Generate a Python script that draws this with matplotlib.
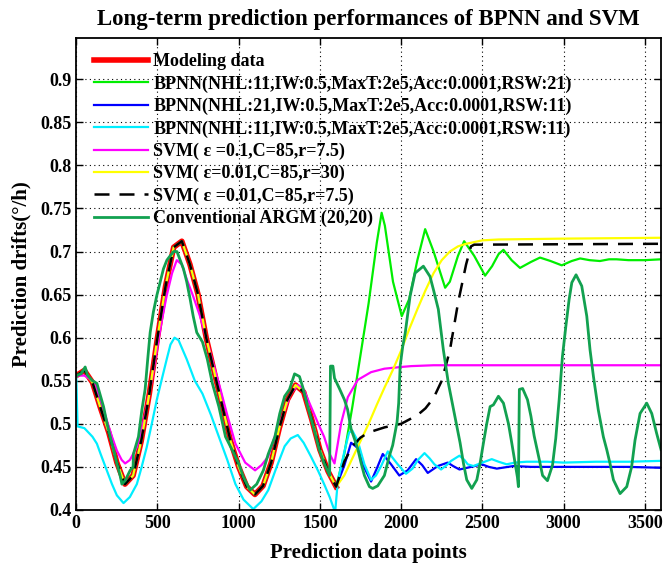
import matplotlib
matplotlib.use('Agg')
import matplotlib.pyplot as plt
import numpy as np
from matplotlib.ticker import FormatStrFormatter

plt.rcParams['font.family'] = ['Liberation Serif', 'DejaVu Serif']
plt.rcParams['font.weight'] = 'bold'

# Modeling data (0..1600, step 50)
model_x = list(range(0, 1601, 50))
model_y = [0.556, 0.562, 0.548, 0.518, 0.490, 0.455, 0.430, 0.440, 0.480, 0.535,
           0.600, 0.660, 0.705, 0.712, 0.685, 0.650, 0.600, 0.560, 0.520, 0.480,
           0.450, 0.427, 0.418, 0.428, 0.455, 0.495, 0.528, 0.545, 0.537, 0.505,
           0.470, 0.445, 0.427]

# BPNN(NHL:11, RSW:21) - prediction part
bp1_x = [1650, 1700, 1750, 1800, 1850, 1880, 1900, 1950, 2004, 2050, 2100, 2148, 2200,
         2271, 2300, 2350, 2388, 2450, 2517, 2560, 2600, 2630, 2680, 2732, 2800, 2855,
         2920, 2989, 3050, 3102, 3160, 3224, 3280, 3326, 3400, 3500, 3600]
bp1_y = [0.465, 0.520, 0.580, 0.640, 0.710, 0.745, 0.730, 0.665, 0.625, 0.645, 0.690,
         0.726, 0.700, 0.658, 0.665, 0.695, 0.712, 0.695, 0.672, 0.683, 0.697, 0.702,
         0.690, 0.681, 0.688, 0.693, 0.689, 0.684, 0.689, 0.692, 0.690, 0.689, 0.691,
         0.691, 0.690, 0.690, 0.691]

# BPNN(NHL:21, RSW:11) - prediction part
bp2_x = [1651, 1692, 1733, 1774, 1815, 1850, 1887, 1938, 1989, 2040, 2092, 2130, 2164,
         2226, 2287, 2320, 2359, 2431, 2497, 2540, 2589, 2692, 2800, 3000, 3200, 3400, 3600]
bp2_y = [0.452, 0.478, 0.472, 0.449, 0.433, 0.448, 0.465, 0.453, 0.440, 0.446, 0.459,
         0.452, 0.443, 0.451, 0.455, 0.451, 0.447, 0.450, 0.453, 0.450, 0.448, 0.451,
         0.450, 0.450, 0.450, 0.450, 0.449]

# BPNN(NHL:11, RSW:11) - whole curve
bp3_x = [0, 8, 50, 100, 127, 150, 188, 220, 250, 291, 330, 373, 400, 434, 465, 496, 527,
         557, 580, 605, 630, 680, 730, 777, 830, 878, 930, 980, 1030, 1090, 1140, 1182,
         1230, 1283, 1320, 1364, 1400, 1445, 1490, 1526, 1560, 1585, 1595, 1610, 1651,
         1680, 1700, 1733, 1774, 1815, 1845, 1877, 1918, 1950, 1979, 2030, 2070, 2103,
         2144, 2175, 2205, 2246, 2280, 2308, 2359, 2390, 2410, 2445, 2500, 2558, 2600,
         2650, 2700, 2773, 2900, 3000, 3200, 3400, 3600]
bp3_y = [0.556, 0.497, 0.495, 0.485, 0.477, 0.465, 0.446, 0.430, 0.417, 0.408, 0.415,
         0.430, 0.448, 0.473, 0.500, 0.528, 0.552, 0.575, 0.592, 0.600, 0.597, 0.575,
         0.550, 0.535, 0.510, 0.485, 0.458, 0.430, 0.412, 0.401, 0.410, 0.423, 0.448,
         0.474, 0.483, 0.487, 0.478, 0.462, 0.445, 0.430, 0.415, 0.402, 0.400, 0.433,
         0.468, 0.490, 0.492, 0.480, 0.453, 0.435, 0.440, 0.451, 0.468, 0.460, 0.453,
         0.442, 0.448, 0.458, 0.466, 0.460, 0.453, 0.447, 0.452, 0.457, 0.463, 0.458,
         0.453, 0.451, 0.455, 0.459, 0.456, 0.453, 0.455, 0.456, 0.456, 0.455, 0.456,
         0.456, 0.457]

# SVM(eps=0.1, C=85, r=7.5) - whole curve
svm1_x = [0, 50, 100, 127, 160, 188, 220, 250, 280, 301, 330, 373, 400, 434, 465, 496,
          527, 557, 590, 619, 650, 680, 720, 762, 800, 840, 878, 930, 980, 1040, 1101,
          1140, 1182, 1230, 1283, 1320, 1364, 1400, 1445, 1490, 1526, 1560, 1590, 1631,
          1672, 1733, 1815, 1897, 2000, 2062, 2200, 3600]
svm1_y = [0.556, 0.556, 0.550, 0.540, 0.522, 0.504, 0.485, 0.469, 0.458, 0.454, 0.458,
          0.473, 0.490, 0.520, 0.550, 0.586, 0.620, 0.649, 0.675, 0.690, 0.685, 0.668,
          0.648, 0.625, 0.600, 0.572, 0.547, 0.510, 0.477, 0.455, 0.446, 0.452, 0.462,
          0.490, 0.516, 0.535, 0.545, 0.540, 0.520, 0.500, 0.485, 0.465, 0.454, 0.501,
          0.531, 0.551, 0.560, 0.564, 0.566, 0.567, 0.568, 0.568]

# SVM(eps=0.01, C=85, r=30) - prediction part
svm2_x = [1650, 1700, 1750, 1800, 1850, 1900, 1950, 2000, 2050, 2100, 2150, 2200, 2250,
          2300, 2350, 2400, 2450, 2500, 2600, 3000, 3600]
svm2_y = [0.440, 0.460, 0.480, 0.500, 0.522, 0.543, 0.563, 0.585, 0.610, 0.633, 0.655,
          0.675, 0.690, 0.700, 0.706, 0.709, 0.711, 0.713, 0.714, 0.715, 0.716]

# SVM(eps=0.01, C=85, r=7.5) - prediction part
svm3_x = [1650, 1700, 1750, 1800, 1850, 1900, 2000, 2100, 2150, 2200, 2250, 2300, 2350,
          2400, 2430, 2450, 3600]
svm3_y = [0.456, 0.474, 0.484, 0.490, 0.493, 0.496, 0.500, 0.510, 0.518, 0.530, 0.550,
          0.585, 0.640, 0.685, 0.706, 0.708, 0.709]

# Conventional ARGM (20,20) - whole curve
argm_x = [0, 30, 55, 70, 100, 127, 150, 168, 190, 209, 230, 250, 270, 281, 301, 332, 350,
          352, 383, 404, 424, 440, 455, 475, 496, 517, 537, 558, 578, 600, 620, 640, 660,
          680, 701, 720, 742, 777, 807, 838, 878, 919, 959, 1000, 1030, 1070, 1111, 1152,
          1182, 1223, 1253, 1283, 1313, 1344, 1374, 1394, 1425, 1465, 1496, 1526, 1546,
          1560, 1565, 1580, 1590, 1620, 1651, 1670, 1692, 1712, 1733, 1753, 1774, 1805,
          1825, 1856, 1897, 1928, 1948, 1975, 1985, 1994, 2010, 2025, 2055, 2086, 2137,
          2178, 2200, 2229, 2260, 2291, 2332, 2363, 2384, 2404, 2435, 2466, 2486, 2507,
          2527, 2548, 2568, 2599, 2630, 2661, 2681, 2702, 2716, 2722, 2728, 2748, 2778,
          2799, 2819, 2850, 2871, 2901, 2932, 2952, 2973, 2993, 3014, 3034, 3051, 3077,
          3112, 3143, 3163, 3184, 3214, 3245, 3266, 3286, 3307, 3348, 3389, 3419, 3440,
          3471, 3512, 3543, 3573, 3600]
argm_y = [0.556, 0.558, 0.566, 0.556, 0.550, 0.547, 0.532, 0.520, 0.500, 0.485, 0.470,
          0.454, 0.440, 0.430, 0.434, 0.446, 0.450, 0.465, 0.485, 0.516, 0.540, 0.575,
          0.606, 0.630, 0.649, 0.665, 0.680, 0.690, 0.695, 0.700, 0.700, 0.690, 0.680,
          0.665, 0.645, 0.625, 0.606, 0.595, 0.575, 0.547, 0.520, 0.485, 0.470, 0.454,
          0.438, 0.423, 0.430, 0.446, 0.465, 0.485, 0.512, 0.532, 0.540, 0.558, 0.555,
          0.543, 0.520, 0.493, 0.470, 0.454, 0.446, 0.440, 0.567, 0.567, 0.553, 0.541,
          0.528, 0.517, 0.494, 0.483, 0.471, 0.455, 0.440, 0.427, 0.425, 0.428, 0.440,
          0.463, 0.475, 0.502, 0.524, 0.567, 0.590, 0.605, 0.648, 0.675, 0.683, 0.671,
          0.655, 0.633, 0.586, 0.547, 0.508, 0.478, 0.454, 0.435, 0.425, 0.435, 0.454,
          0.478, 0.500, 0.520, 0.522, 0.532, 0.524, 0.500, 0.478, 0.454, 0.438, 0.427,
          0.540, 0.541, 0.528, 0.509, 0.486, 0.459, 0.440, 0.434, 0.452, 0.483, 0.528,
          0.578, 0.613, 0.644, 0.664, 0.673, 0.660, 0.625, 0.586, 0.555, 0.516, 0.485,
          0.470, 0.454, 0.435, 0.419, 0.427, 0.450, 0.481, 0.512, 0.524, 0.512, 0.489,
          0.470]

labels = ['Modeling data',
          'BPNN(NHL:11,IW:0.5,MaxT:2e5,Acc:0.0001,RSW:21)',
          'BPNN(NHL:21,IW:0.5,MaxT:2e5,Acc:0.0001,RSW:11)',
          'BPNN(NHL:11,IW:0.5,MaxT:2e5,Acc:0.0001,RSW:11)',
          'SVM( \u03b5 =0.1,C=85,r=7.5)',
          'SVM( \u03b5=0.01,C=85,r=30)',
          'SVM( \u03b5 =0.01,C=85,r=7.5)',
          'Conventional ARGM (20,20)']

fig = plt.figure(figsize=(6.63, 5.66), dpi=100)
ax = fig.add_axes([0.115, 0.099, 0.882, 0.834])

ax.plot(model_x, model_y, color='#ff0000', lw=4, label=labels[0])
ax.plot(model_x + bp1_x, model_y + bp1_y, color='#00ee00', lw=1.6, label=labels[1])
ax.plot(model_x + bp2_x, model_y + bp2_y, color='#0000ff', lw=1.6, label=labels[2])
ax.plot(bp3_x, bp3_y, color='#00eeff', lw=1.6, label=labels[3])
ax.plot(svm1_x, svm1_y, color='#ff00ff', lw=1.6, label=labels[4])
ax.plot(model_x + svm2_x, model_y + svm2_y, color='#ffff00', lw=1.6, label=labels[5])
ax.plot(model_x + svm3_x, model_y + svm3_y, color='black', lw=1.8,
        dashes=(6, 4), label=labels[6])
ax.plot(argm_x, argm_y, color='#12a150', lw=2.0, label=labels[7])

ax.set_xlim(0, 3600)
ax.set_ylim(0.4, 0.948)
ax.set_xticks(range(0, 3501, 500))
ax.set_yticks(np.arange(0.4, 0.901, 0.05))
ax.yaxis.set_major_formatter(FormatStrFormatter('%g'))
ax.grid(True, color='black', linestyle=(0, (1, 3)), linewidth=0.8)
ax.tick_params(direction='in', top=True, right=True, length=5, width=1,
               labelsize=13)
for s in ax.spines.values():
    s.set_linewidth(1.3)

ax.set_title('Long-term prediction performances of BPNN and SVM',
             fontsize=16.5, fontweight='bold', pad=9)
ax.set_xlabel('Prediction data points', fontsize=15, fontweight='bold', labelpad=8)
ax.set_ylabel('Prediction drifts(\u00b0/h)', fontsize=15, fontweight='bold', labelpad=6)

ax.legend(loc='upper left', bbox_to_anchor=(0.03, 0.967), frameon=False,
          handlelength=3.0, handletextpad=0.3, labelspacing=0.28,
          borderaxespad=0, borderpad=0, prop={'weight': 'bold', 'size': 13})

plt.savefig('out.png', dpi=100)
